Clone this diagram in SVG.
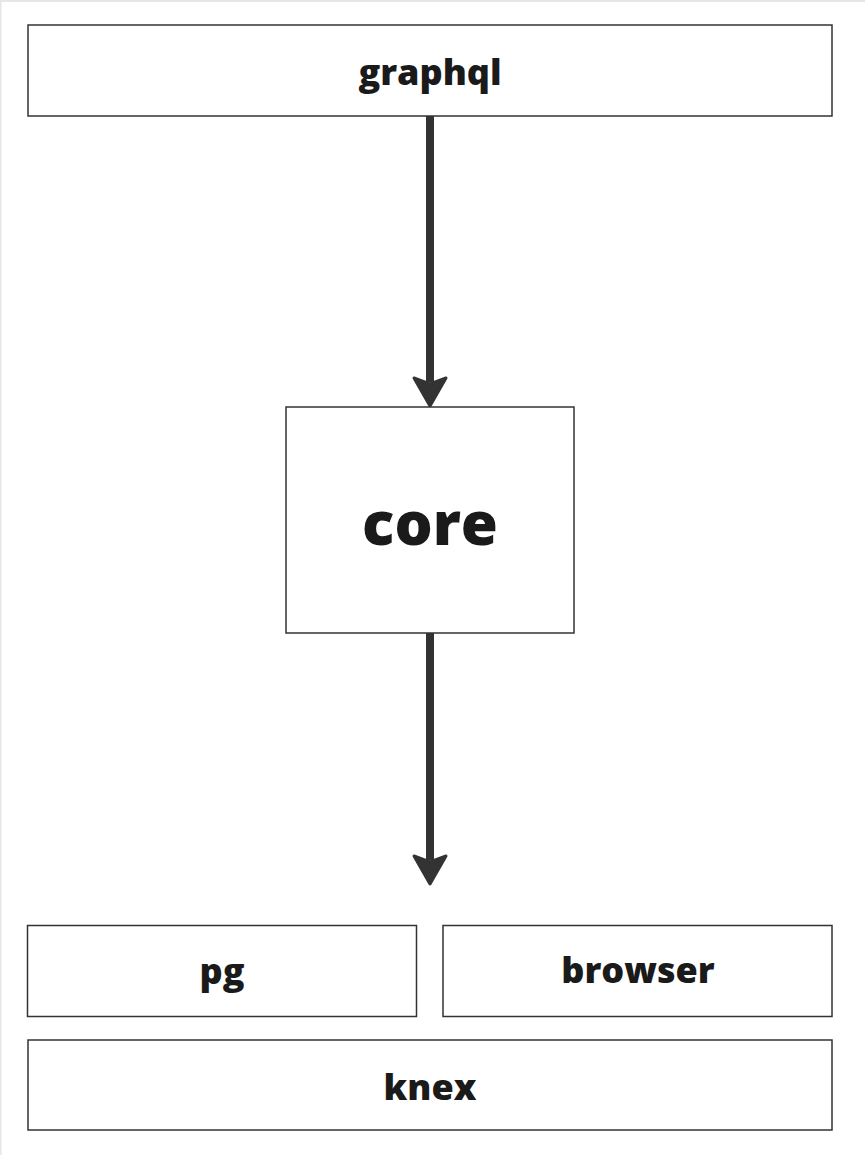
<svg xmlns="http://www.w3.org/2000/svg" width="865" height="1155" viewBox="0 0 865 1155">
<style>
.box{fill:#fff;stroke:#333;stroke-width:1.5}
.lbl{font-family:"Open Sans","Noto Sans",sans-serif;font-weight:800;fill:#1a1a1a;text-anchor:middle}
.edge{stroke:#333;stroke-width:8;fill:none}
.head{fill:#333;stroke:#333;stroke-width:3;stroke-linejoin:round}
</style>
<rect x="0" y="0" width="865" height="1155" fill="#fff"/>
<path d="M0.5 0 V1155 M0 1 H865" stroke="#e6e6e6" stroke-width="2" fill="none"/>
<g id="connectors">
<path class="edge" d="M430 116 V382"/>
<polygon class="head" points="414,378 430,384 446,378 430,406"/>
<path class="edge" d="M430 633 V860"/>
<polygon class="head" points="414,856 430,862 446,856 430,884"/>
</g>
<g id="graphql"><rect class="box" x="28" y="25" width="804" height="91"/><text class="lbl" x="430" y="85" font-size="36">graphql</text></g>
<g id="core"><rect class="box" x="286" y="407" width="288" height="226"/><text class="lbl" x="430" y="545" font-size="60">core</text></g>
<g id="pg"><rect class="box" x="27.5" y="925.5" width="389" height="91"/><text class="lbl" x="222" y="984" font-size="36">pg</text></g>
<g id="browser"><rect class="box" x="443" y="925.5" width="389" height="91"/><text class="lbl" x="638" y="983" font-size="36">browser</text></g>
<g id="knex"><rect class="box" x="28" y="1040" width="804" height="90"/><text class="lbl" x="430" y="1100" font-size="36">knex</text></g>
</svg>
